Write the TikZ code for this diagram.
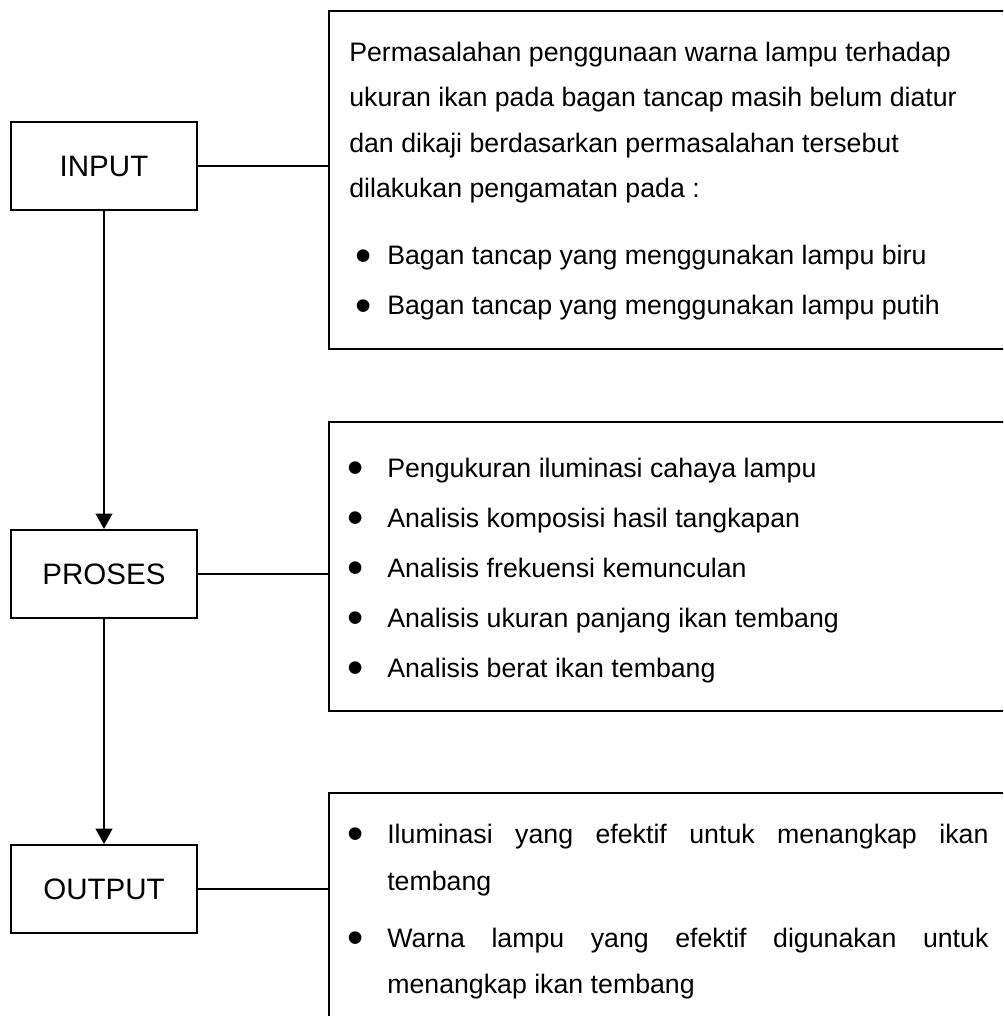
\documentclass[tikz,border=0pt]{standalone}
\usepackage{fontspec}
\setmainfont{Liberation Sans}
\usetikzlibrary{arrows.meta,positioning}
\tikzset{
  stage/.style={draw, line width=1.5pt, minimum width=4.65cm, minimum height=2.2cm, inner sep=0pt, font=\fontsize{21}{25}\selectfont},
  panel/.style={draw, line width=1.5pt, anchor=north west, inner sep=0pt, minimum width=17.5cm},
  txt/.style={anchor=base west, inner sep=0pt, font=\fontsize{19}{23}\selectfont},
  link/.style={line width=1.3pt},
  flow/.style={line width=1.3pt, -{Triangle[length=0.38cm, width=0.42cm]}}
}
\newcommand{\blt}[1]{\llap{\raisebox{-4.7pt}{\fontsize{33}{33}\selectfont\textbullet}\hspace{#1}}}

\begin{document}
\begin{tikzpicture}[x=0.025cm, y=-0.025cm]
\clip (0,0) rectangle (1003,1016);
% Stages
\node[stage] (input) at (104,166) {INPUT};
\node[stage] (proses) at (104,574) {PROSES};
\node[stage] (output) at (104,889) {OUTPUT};
% Panels
\node[panel, minimum height=8.45cm] (inpanel) at (328,10) {};
\node[panel, minimum height=7.225cm] (prpanel) at (328,421) {};
\node[panel, minimum height=8cm] (outpanel) at (328,792) {};
% Input text
\node[txt] (in1) at (349,62) {Permasalahan penggunaan warna lampu terhadap};
\node[txt] (in2) at (349,107) {ukuran ikan pada bagan tancap masih belum diatur};
\node[txt] (in3) at (349,153) {dan dikaji berdasarkan permasalahan tersebut};
\node[txt] (in4) at (349,198) {dilakukan pengamatan pada :};
\node[txt] (in5) at (387,265) {\blt{10.7pt}Bagan tancap yang menggunakan lampu biru};
\node[txt] (in6) at (387,315) {\blt{10.7pt}Bagan tancap yang menggunakan lampu putih};
% Proses text
\node[txt] (pr1) at (387,477) {\blt{17pt}Pengukuran iluminasi cahaya lampu};
\node[txt] (pr2) at (387,527) {\blt{17pt}Analisis komposisi hasil tangkapan};
\node[txt] (pr3) at (387,577) {\blt{17pt}Analisis frekuensi kemunculan};
\node[txt] (pr4) at (387,627) {\blt{17pt}Analisis ukuran panjang ikan tembang};
\node[txt] (pr5) at (387,677) {\blt{17pt}Analisis berat ikan tembang};
% Output text
\node[txt] (out1) at (387,843) {\blt{17pt}\makebox[15.025cm][s]{Iluminasi yang efektif untuk menangkap ikan}};
\node[txt] (out2) at (387,890) {tembang};
\node[txt] (out3) at (387,947) {\blt{17pt}\makebox[15.025cm][s]{Warna lampu yang efektif digunakan untuk}};
\node[txt] (out4) at (387,993) {menangkap ikan tembang};
% Connectors
\draw[flow] (input) -- (proses);
\draw[flow] (proses) -- (output);
\draw[link] (input.east) -- (input.east -| inpanel.west);
\draw[link] (proses.east) -- (proses.east -| prpanel.west);
\draw[link] (output.east) -- (output.east -| outpanel.west);
\end{tikzpicture}
\end{document}
